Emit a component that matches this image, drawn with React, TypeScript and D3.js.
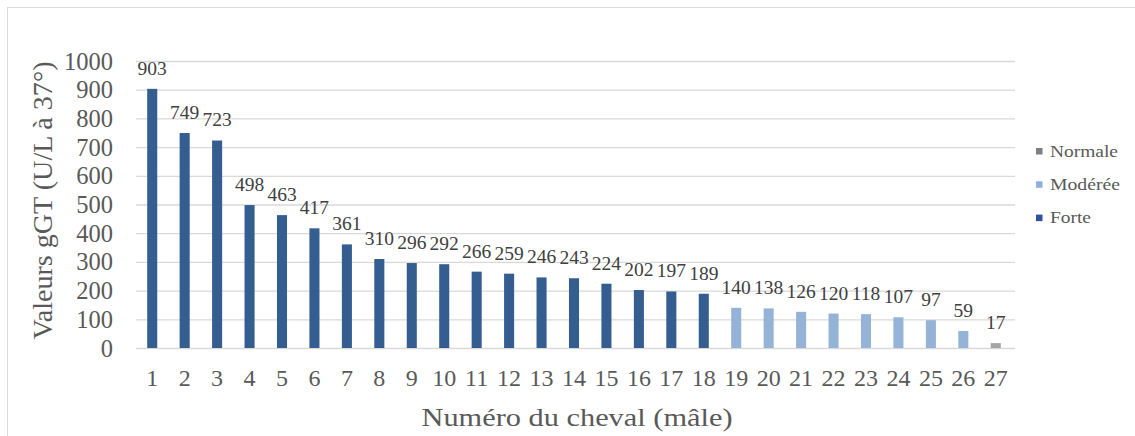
import React from 'react';
import * as d3 from 'd3';

const horses = d3.range(1, 28).map(String);
const values = [903, 749, 723, 498, 463, 417, 361, 310, 296, 292, 266, 259, 246, 243, 224, 202, 197, 189, 140, 138, 126, 120, 118, 107, 97, 59, 17];
const levels = ['Forte', 'Forte', 'Forte', 'Forte', 'Forte', 'Forte', 'Forte', 'Forte', 'Forte', 'Forte', 'Forte', 'Forte', 'Forte', 'Forte', 'Forte', 'Forte', 'Forte', 'Forte',
  'Modérée', 'Modérée', 'Modérée', 'Modérée', 'Modérée', 'Modérée', 'Modérée', 'Modérée', 'Normale'];
const legendItems = ['Normale', 'Modérée', 'Forte'];
const legendWidths = [68, 70, 41];
const yTicks = d3.range(0, 1001, 100);

const barColor: Record<string, string> = { Forte: '#345e90', 'Modérée': '#95b3d7', Normale: '#a5a5a5' };
const legendColor: Record<string, string> = { Forte: '#2f52a0', 'Modérée': '#8eaee0', Normale: '#7f7f7f' };

const font = 'Liberation Serif';
const textCol = '#595959';

export default function App() {
  const left = 136, right = 1012, top = 61, bottom = 348;
  const x = d3.scaleBand().domain(horses).range([left, right]).paddingInner(0.69).paddingOuter(0.345);
  const y = d3.scaleLinear().domain([0, 1000]).range([bottom, top]);
  const cx = (h: string) => x(h)! + x.bandwidth() / 2;

  return (
    <div style={{ position: 'absolute', left: 0, top: 0 }}>
      <svg width={1135} height={436} style={{ display: 'block', fontFamily: font }}>
        <rect x={7.5} y={7.5} width={1140} height={440} fill="#fff" stroke="#d9d9d9" />

        {yTicks.map(t => (
          <line key={'g' + t} x1={left} x2={right + 3} y1={y(t) + 0.5} y2={y(t) + 0.5} stroke="#d9d9d9" strokeWidth={1.3} />
        ))}
        {yTicks.map(t => (
          <text key={'y' + t} x={113} y={y(t)} dy="0.35em" textAnchor="end" fontSize={24.5} fill={textCol} style={{ fontFamily: font }}>{t}</text>
        ))}

        {values.map((v, i) => (
          <rect key={'b' + i} x={x(horses[i])} width={x.bandwidth()} y={y(v)} height={y(0) - y(v)} fill={barColor[levels[i]]} />
        ))}
        {values.map((v, i) => (
          <text key={'v' + i} x={cx(horses[i])} y={y(v) - 14} textAnchor="middle" fontSize={19.5} fill="#404040" style={{ fontFamily: font }}>{v}</text>
        ))}

        {horses.map(h => (
          <text key={'x' + h} x={cx(h)} y={386} textAnchor="middle" fontSize={24} fill={textCol} style={{ fontFamily: font }}>{h}</text>
        ))}

        <text x={577} y={426} textAnchor="middle" fontSize={26} fill={textCol} textLength={311} lengthAdjust="spacingAndGlyphs" style={{ fontFamily: font }}>Numéro du cheval (mâle)</text>
        <text transform={`translate(52,${(top + bottom) / 2 - 4}) rotate(-90)`} textAnchor="middle" fontSize={28} fill={textCol} textLength={278} lengthAdjust="spacingAndGlyphs" style={{ fontFamily: font }}>Valeurs gGT (U/L à 37°)</text>

        {legendItems.map((d, i) => (
          <g key={'l' + d} transform={`translate(1036,${151 + i * 33.3})`}>
            <rect x={0} y={-3} width={6.5} height={6.5} fill={legendColor[d]} />
            <text x={14} y={0} dy="0.35em" fontSize={16} fill={textCol} textLength={legendWidths[i]} lengthAdjust="spacingAndGlyphs" style={{ fontFamily: font }}>{d}</text>
          </g>
        ))}
      </svg>
    </div>
  );
}
